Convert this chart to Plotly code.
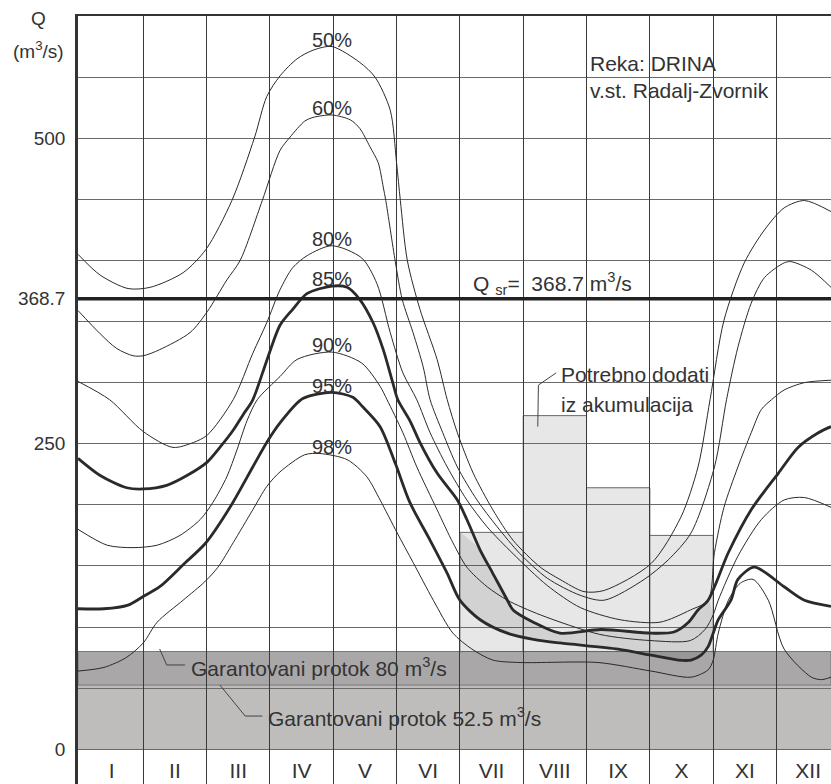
import plotly.graph_objects as go

# ---------------- data ----------------
months = ["I", "II", "III", "IV", "V", "VI", "VII", "VIII", "IX", "X", "XI", "XII"]
Q_SR = 368.7
GUAR_HIGH = 80.0
GUAR_LOW = 52.5
need_start = [6, 7, 8, 9]            # VII .. X (month index)
need_top = [177.5, 273.0, 214.0, 175.0]

y_ticks = [0, 250, 368.7, 500]
y_ticktext = ["0", "250", "368.7", "500"]

p50_x = [-0.03, 0.32, 0.76, 1.11, 1.63, 1.99, 2.40, 2.76, 2.95, 3.16, 3.43, 3.68, 3.98, 4.42, 4.66, 4.90,
         5.00, 5.06, 5.17, 5.37, 5.64, 5.80, 5.96, 6.21, 6.52, 6.84, 7.27, 7.58, 7.96, 8.28, 9.02, 9.49,
         9.76, 9.95, 10.17, 10.49, 10.81, 11.12, 11.44, 11.86]
p50_y = [405, 388, 377, 378, 390, 409, 449, 501, 534, 551, 565, 572, 575, 562, 550, 523,
         480, 449, 400, 360, 319, 286, 259, 226, 196, 171, 149, 139, 129, 130, 152, 190,
         231, 286, 351, 398, 425, 443, 449, 440]

p60_x = [-0.03, 0.32, 0.58, 0.84, 1.00, 1.26, 1.74, 2.01, 2.32, 2.53, 2.88, 3.16, 3.32, 3.55, 3.68, 3.98,
         4.27, 4.42, 4.58, 4.71, 4.79, 4.83, 4.98, 5.09, 5.26, 5.42, 5.53, 5.73, 5.96, 6.27, 6.59, 6.95,
         7.38, 7.90, 8.28, 8.91, 9.29, 9.65, 10.02, 10.21, 10.39, 10.60, 10.81, 11.12, 11.23, 11.55, 11.86]
p60_y = [359, 340, 328, 322, 322, 327, 341, 358, 384, 400, 449, 490, 501, 514, 517, 519,
         515, 508, 493, 480, 460, 449, 399, 368, 341, 313, 286, 259, 231, 204, 182, 160,
         140, 126, 122, 139, 155, 177, 231, 286, 329, 365, 386, 398, 399, 392, 378]

p80_x = [-0.03, 0.47, 1.00, 1.47, 1.79, 2.01, 2.42, 2.73, 2.95, 3.16, 3.36, 3.59, 3.98, 4.45, 4.69, 4.90,
         5.10, 5.32, 5.53, 5.80, 6.11, 6.43, 6.84, 7.38, 7.90, 8.53, 9.16, 9.64, 9.92, 10.02, 10.17, 10.39,
         10.60, 10.76, 10.92, 11.12, 11.44, 11.86]
p80_y = [301, 286, 260, 247, 251, 257, 286, 324, 349, 376, 394, 404, 412, 402, 381, 341,
         308, 286, 259, 231, 204, 182, 160, 134, 116, 106, 104, 114, 122, 161, 198, 231,
         259, 278, 286, 294, 300, 302]

p85_x = [-0.03, 0.32, 0.74, 1.00, 1.37, 1.69, 2.01, 2.21, 2.42, 2.58, 2.73, 2.95, 3.16, 3.36, 3.59, 3.98,
         4.22, 4.42, 4.63, 4.79, 4.94, 5.02, 5.21, 5.37, 5.64, 5.96, 6.11, 6.32, 6.52, 6.75, 6.84, 7.16,
         7.58, 8.23, 9.02, 9.38, 9.61, 9.76, 9.92, 10.24, 10.60, 11.03, 11.34, 11.66, 11.86]
p85_y = [238, 224, 214, 213, 216, 224, 235, 247, 261, 274, 286, 318, 347, 360, 373, 379,
         378, 368, 349, 327, 300, 286, 269, 251, 226, 204, 188, 163, 144, 122, 114, 104,
         95, 98, 95, 96, 104, 114, 122, 161, 196, 226, 247, 259, 264]

p90_x = [-0.03, 0.43, 0.84, 1.22, 1.58, 1.90, 2.10, 2.32, 2.48, 2.64, 2.80, 3.16, 3.43, 3.98, 4.45, 4.74,
         4.85, 5.10, 5.32, 5.64, 5.89, 6.11, 6.43, 6.75, 7.27, 8.21, 9.00, 9.64, 9.87, 10.00, 10.08, 10.39,
         10.76, 11.12, 11.44, 11.86]
p90_y = [180, 167, 165, 167, 175, 188, 202, 223, 245, 269, 286, 305, 319, 325, 316, 297,
         286, 259, 231, 196, 169, 149, 133, 122, 110, 94, 89, 89, 98, 110, 122, 158,
         188, 204, 206, 198]

p95_x = [-0.03, 0.38, 0.76, 1.00, 1.26, 1.63, 1.99, 2.37, 2.73, 2.95, 3.16, 3.52, 3.98, 4.31, 4.47, 4.74,
         4.98, 5.21, 5.53, 5.80, 6.00, 6.32, 6.75, 7.16, 7.58, 8.50, 9.02, 9.45, 9.65, 9.81, 9.92, 10.00,
         10.08, 10.28, 10.39, 10.65, 11.12, 11.44, 11.86]
p95_y = [115, 115, 118, 125, 133, 151, 169, 198, 231, 251, 267, 287, 292, 288, 280, 264,
         234, 202, 171, 144, 122, 106, 95, 90, 87, 82, 77, 73, 73, 77, 84, 95,
         106, 122, 139, 149, 133, 122, 117]

p98_x = [-0.03, 0.38, 0.73, 1.00, 1.22, 1.63, 1.97, 2.18, 2.42, 2.73, 2.95, 3.16, 3.55, 3.79, 4.22, 4.53,
         4.74, 5.01, 5.26, 5.58, 5.89, 6.19, 6.52, 6.95, 8.18, 9.02, 9.65, 9.92, 10.00, 10.08, 10.24, 10.43,
         10.63, 10.87, 11.12, 11.55, 11.71, 11.86]
p98_y = [64, 67, 75, 87, 104, 122, 137, 149, 169, 196, 215, 227, 241, 242, 237, 223,
         204, 177, 153, 122, 95, 82, 73, 71, 71, 64, 59, 65, 73, 95, 122, 136,
         139, 122, 82, 59, 57, 59]

pct_names = ["50%", "60%", "80%", "85%", "90%", "95%", "98%"]

# leader lines (data coordinates)
lead80_x = [1.26, 1.37, 1.66]
lead80_y = [82, 69, 69]
lead52_x = [2.21, 2.61, 2.88]
lead52_y = [52.6, 27.2, 27.2]
leadneed_x = [7.23, 7.24, 7.52]
leadneed_y = [264, 298, 308]

# ---------------- figure ----------------
FONT = "Liberation Sans, Arial, sans-serif"
INK = "#2a2a2a"
TXT = "#333"
fig = go.Figure()

curves = [(p50_x, p50_y, 1.0), (p60_x, p60_y, 1.0), (p80_x, p80_y, 1.0), (p85_x, p85_y, 2.8),
          (p90_x, p90_y, 1.0), (p95_x, p95_y, 2.8), (p98_x, p98_y, 1.0)]

# medium-grey deficit area between the 85% and 95% curves in VII-X,
# capped in VII by that month's bar
x_lo, x_hi = need_start[0], need_start[-1] + 1
fx = [x_lo] + [x for x, y in zip(p85_x, p85_y) if x_lo < x <= x_hi and y <= need_top[0]]
fy = [need_top[0]] + [y for x, y in zip(p85_x, p85_y) if x_lo < x <= x_hi and y <= need_top[0]]
gx = [x for x in p95_x if x_lo <= x <= x_hi][::-1]
gy = [y for x, y in zip(p95_x, p95_y) if x_lo <= x <= x_hi][::-1]
fig.add_trace(go.Scatter(x=fx + gx, y=fy + gy, fill="toself", mode="none",
                         fillcolor="rgba(0,0,0,0.09)", line_shape="spline", hoverinfo="skip"))

for cx, cy, w in curves:
    fig.add_trace(go.Scatter(x=cx, y=cy, mode="lines",
                             line=dict(color=INK, width=w, shape="spline", smoothing=0.8),
                             hoverinfo="skip"))

# percentage labels just above each curve's peak (in May)
LABEL_LIFT = 4
peak_y = [max(c[1]) + LABEL_LIFT for c in curves]
fig.add_trace(go.Scatter(x=[3.98] * len(pct_names), y=peak_y, mode="text", text=pct_names,
                         textposition="middle center",
                         textfont=dict(family=FONT, size=20, color=TXT), cliponaxis=False))

# month labels in the bottom row
fig.add_trace(go.Scatter(x=[i + 0.5 for i in range(12)], y=[-19.5] * 12, mode="text", text=months,
                         textfont=dict(family=FONT, size=21, color=TXT), cliponaxis=False))

# leader lines
for lx, ly in [(lead80_x, lead80_y), (lead52_x, lead52_y), (leadneed_x, leadneed_y)]:
    fig.add_trace(go.Scatter(x=lx, y=ly, mode="lines", line=dict(color="#444", width=1)))

shapes = [
    dict(type="rect", xref="paper", x0=0, x1=1, yref="y", y0=0, y1=GUAR_LOW,
         fillcolor="#bebdbc", line=dict(width=0), layer="below"),
    dict(type="rect", xref="paper", x0=0, x1=1, yref="y", y0=GUAR_LOW, y1=GUAR_HIGH,
         fillcolor="#a9a7a8", line=dict(width=1, color="#777"), layer="below"),
]
for s, t in zip(need_start, need_top):
    shapes.append(dict(type="rect", xref="x", x0=s, x1=s + 1, yref="y", y0=GUAR_HIGH, y1=t,
                       fillcolor="#e7e7e7", line=dict(width=1, color="#666"), layer="below"))
shapes.append(dict(type="line", xref="paper", x0=0, x1=1, yref="y", y0=Q_SR, y1=Q_SR,
                   line=dict(color="#222", width=3.5), layer="above"))

def ann(x, y, text, size=20, xanchor="center", xref="x", yref="y"):
    return dict(x=x, y=y, xref=xref, yref=yref, text=text, xanchor=xanchor, yanchor="middle",
                showarrow=False, font=dict(family=FONT, size=size, color=TXT))

annotations = [
    ann(-0.052, 0.997, "Q", 19, xref="paper", yref="paper"),
    ann(-0.052, 0.956, "(m<sup>3</sup>/s)", 19, xref="paper", yref="paper"),
    ann(8.03, 561.5, "Reka: DRINA", 21, "left"),
    ann(8.03, 539.4, "v.st. Radalj-Zvornik", 21, "left"),
    ann(6.17, 381.5, "Q <sub>sr</sub>=  368.7 m<sup>3</sup>/s", 21, "left"),
    ann(7.57, 306.3, "Potrebno dodati", 21, "left"),
    ann(7.57, 282.5, "iz akumulacija", 21, "left"),
    ann(1.72, 67.3, "Garantovani protok 80 m<sup>3</sup>/s", 21, "left"),
    ann(2.94, 26.4, "Garantovani protok 52.5 m<sup>3</sup>/s", 21, "left"),
]

fig.update_layout(
    width=831, height=784,
    margin=dict(l=78, r=0, t=16, b=0, autoexpand=False),
    plot_bgcolor="rgba(0,0,0,0)", paper_bgcolor="white",
    showlegend=False,
    font=dict(family=FONT, color=TXT),
    shapes=shapes, annotations=annotations,
)
fig.update_xaxes(range=[-0.03, 11.86], tickvals=list(range(1, 12)), showticklabels=False,
                 showgrid=True, gridcolor="#3a3a3a", gridwidth=1, zeroline=False,
                 showline=True, mirror=True, linecolor="#333", linewidth=2, ticks="")
fig.update_yaxes(range=[-28.4, 600], tickvals=y_ticks, ticktext=y_ticktext, showgrid=False,
                 minor=dict(tick0=0, dtick=50, showgrid=True, gridcolor="#6a6a6a", gridwidth=1, ticks=""),
                 zeroline=False, showline=True, linecolor="#333", linewidth=2.5, ticks="",
                 ticklabelstandoff=6, tickfont=dict(family=FONT, size=19, color=TXT))

fig.write_html("out.html", config={"displayModeBar": False},
               post_script="document.body.style.margin='0';")
